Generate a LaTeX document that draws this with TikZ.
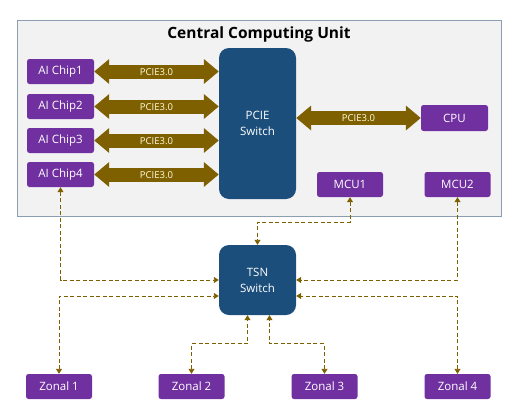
\documentclass[tikz,border=0pt]{standalone}
\usepackage{fontspec}
\setmainfont{Open Sans}
\usetikzlibrary{shapes, arrows.meta, calc, positioning}
\definecolor{chipviolet}{HTML}{7030A0}
\definecolor{switchblue}{HTML}{1C4E7B}
\definecolor{busgold}{HTML}{7F6000}
\definecolor{framegray}{HTML}{8C9DB2}
\definecolor{framefill}{HTML}{F2F2F2}
\tikzset{
	unitbox/.style={fill=chipviolet, text=white, rounded corners=2.5pt, minimum width=66pt, minimum height=25pt, inner sep=0pt, font=\fontsize{11.5}{12}\selectfont},
	switchbox/.style={fill=switchblue, text=white, rounded corners=10pt, minimum width=77pt, inner sep=0pt, align=center, font=\fontsize{11.5}{16}\selectfont},
	busarrow/.style={busgold, line width=14pt, {Triangle[length=15pt, width=24pt]}-{Triangle[length=15pt, width=24pt]}},
	buslabel/.style={text=white!88!yellow, inner sep=0pt, yshift=-0.5pt, font=\fontsize{9.5}{10}\selectfont},
	linkline/.style={busgold, line width=0.9pt, dash pattern=on 4pt off 2.5pt, {Triangle[length=5pt, width=6pt]}-{Triangle[length=5pt, width=6pt]}}
}
\begin{document}
\begin{tikzpicture}[x=1pt, y=-1pt]
		\useasboundingbox (0, 0) rectangle (518, 404);
		\node[draw=framegray, fill=framefill, line width=1pt, minimum width=484pt, minimum height=195pt] (ccu) at (259, 118.5) {};
		\node[font=\bfseries\fontsize{15.5}{17}\selectfont] (title) at (259, 34) {Central Computing Unit};
		\node[switchbox, minimum height=151pt] (pcie) at (257.5, 123.5) {PCIE\\Switch};
		\foreach \i/\y in {1/71.5, 2/106.5, 3/140.5, 4/174.5} {
			\node[unitbox, minimum width=67pt] (chip\i) at (60.5, \y) {AI Chip\i};
			\draw[busarrow] (chip\i.east) to node[buslabel] {PCIE3.0} (pcie.west |- chip\i.east);
		}
		\node[unitbox, minimum width=67pt, minimum height=26pt] (cpu) at (454.5, 118) {CPU};
		\draw[busarrow] (pcie.east |- cpu.west) to node[buslabel] {PCIE3.0} (cpu.west);
		\node[unitbox] (mcu1) at (350, 184.5) {MCU1};
		\node[unitbox] (mcu2) at (457.5, 184.5) {MCU2};
		\node[switchbox, minimum height=70pt] (tsn) at (257.5, 280) {TSN\\Switch};
		\foreach \i/\x in {1/59, 2/191.5, 3/324.5, 4/457.5} {
			\node[unitbox] (zonal\i) at (\x, 386.5) {Zonal \i};
		}
		\draw[linkline] (chip4.south) |- (tsn.west);
		\draw[linkline] (zonal1.north) |- ([yshift=-16pt]tsn.west);
		\draw[linkline] (mcu1.south) -- ++(0, 25) -| (tsn.north);
		\draw[linkline] (mcu2.south) |- (tsn.east);
		\draw[linkline] (zonal4.north) |- ([yshift=-16pt]tsn.east);
		\draw[linkline] (zonal2.north) -- ++(0, -30) -| ([xshift=-10pt]tsn.south);
		\draw[linkline] (zonal3.north) -- ++(0, -30) -| ([xshift=12pt]tsn.south);
	\end{tikzpicture}
\end{document}
